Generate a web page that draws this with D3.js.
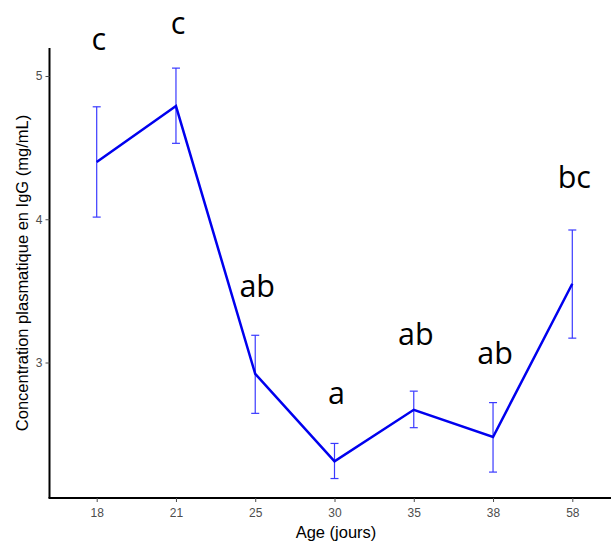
<!DOCTYPE html>
<html><head><meta charset="utf-8">
<script src="https://cdn.jsdelivr.net/npm/d3@7"></script>
<style>body{margin:0;background:#fff;}svg{display:block;}</style>
</head><body>
<svg id="chart" width="611" height="544"></svg>
<script>
const ages = ["18","21","25","30","35","38","58"];
const means = [4.40, 4.79, 2.92, 2.31, 2.67, 2.48, 3.55];
const upper = [4.785, 5.055, 3.19, 2.435, 2.80, 2.72, 3.925];
const lower = [4.015, 4.53, 2.645, 2.19, 2.545, 2.235, 3.17];
const letters = ["c", "c", "ab", "a", "ab", "ab", "bc"];
const letterY = [5.18, 5.29, 3.46, 2.71, 3.12, 2.99, 4.22];
const yTicks = [3, 4, 5];

const svg = d3.select("#chart");
const x = d3.scalePoint().domain(ages).range([96.7, 572.3]);
const y = d3.scaleLinear().domain([3, 5]).range([362.5, 76]);
const FONT = "Liberation Sans, Arial, sans-serif";

// y axis
const yAxis = svg.append("g").attr("transform", "translate(49.5,0)")
  .call(d3.axisLeft(y).tickValues(yTicks).tickSize(4).tickFormat(d3.format("d")));
yAxis.select(".domain").attr("d", "M0,48V498").attr("stroke", "#000").attr("stroke-width", 2);
yAxis.selectAll(".tick line").attr("stroke", "#4d4d4d");
yAxis.selectAll(".tick text").attr("fill", "#4d4d4d").attr("font-family", FONT).attr("font-size", 12).attr("x", -7);

// x axis
const xAxis = svg.append("g").attr("transform", "translate(0,498)")
  .call(d3.axisBottom(x).tickSize(4));
xAxis.select(".domain").attr("d", "M48.5,0H611").attr("stroke", "#000").attr("stroke-width", 2);
xAxis.selectAll(".tick line").attr("stroke", "#4d4d4d");
xAxis.selectAll(".tick text").attr("fill", "#4d4d4d").attr("font-family", FONT).attr("font-size", 12).attr("y", 10);

// axis titles
svg.append("text").attr("x", 336).attr("y", 538).attr("text-anchor", "middle")
  .attr("font-family", FONT).attr("font-size", 16.5).attr("fill", "#000")
  .text("Age (jours)");
svg.append("text").attr("transform", "translate(28,273) rotate(-90)").attr("text-anchor", "middle")
  .attr("font-family", FONT).attr("font-size", 16.5).attr("fill", "#000")
  .text("Concentration plasmatique en IgG (mg/mL)");

// error bars
const eb = svg.append("g").attr("stroke", "#3a3aff").attr("stroke-width", 1.2).attr("fill", "none");
ages.forEach((a, i) => {
  const cx = x(a);
  eb.append("line").attr("x1", cx).attr("x2", cx).attr("y1", y(upper[i])).attr("y2", y(lower[i]));
  eb.append("line").attr("x1", cx - 4).attr("x2", cx + 4).attr("y1", y(upper[i])).attr("y2", y(upper[i]));
  eb.append("line").attr("x1", cx - 4).attr("x2", cx + 4).attr("y1", y(lower[i])).attr("y2", y(lower[i]));
});

// line
const line = d3.line().x((d, i) => x(ages[i])).y(d => y(d));
svg.append("path").datum(means).attr("d", line)
  .attr("fill", "none").attr("stroke", "#0000ee").attr("stroke-width", 2.5).attr("stroke-linejoin", "miter");

// letters
svg.append("g").selectAll("text").data(letters).join("text")
  .attr("x", (d, i) => x(ages[i]) + 2)
  .attr("y", (d, i) => y(letterY[i]))
  .attr("text-anchor", "middle")
  .attr("font-family", "Open Sans, sans-serif").attr("font-size", 30.5).attr("fill", "#000")
  .text(d => d);
</script>
</body></html>
